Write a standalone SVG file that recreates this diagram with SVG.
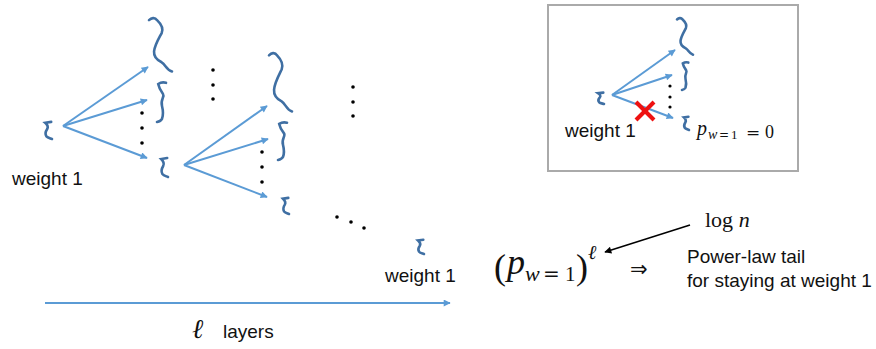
<svg xmlns="http://www.w3.org/2000/svg" xmlns:xlink="http://www.w3.org/1999/xlink" width="876" height="349" viewBox="0 0 876 349">
<style>
.arr{stroke:#5b9bd5;stroke-width:2;fill:none;marker-end:url(#ab)}
.dot{fill:#000}
.lbl{font-family:"Liberation Sans",Arial,sans-serif;font-size:19px;fill:#111}
.math{font-family:"Liberation Serif","Times New Roman",serif;fill:#111}
.dj{font-family:"DejaVu Serif",serif;fill:#111}
.it{font-style:italic}
</style>
<defs>
<marker id="ab" viewBox="0 0 10 10" refX="9" refY="5" markerWidth="9" markerHeight="7" markerUnits="userSpaceOnUse" orient="auto"><path d="M0,0 L10,5 L0,10 z" fill="#5b9bd5"/></marker>
<marker id="ak" viewBox="0 0 10 10" refX="9" refY="5" markerWidth="10" markerHeight="7" markerUnits="userSpaceOnUse" orient="auto"><path d="M0,0 L10,5 L0,10 z" fill="#000"/></marker>
<path id="big" d="M0,4 C10,0 25,-2 35,4 C50,10 65,18 55,28 C40,40 25,50 22,62 C20,72 35,78 55,82 C72,86 75,96 100,99" fill="none" stroke="#3f6fa3" stroke-width="2.6" stroke-linecap="round" vector-effect="non-scaling-stroke"/>
<path id="med" d="M90,2 C60,0 30,2 12,5 C20,15 30,20 60,30 C80,37 30,45 50,60 C60,70 60,85 50,92 C40,97 20,99 0,100" fill="none" stroke="#3f6fa3" stroke-width="2.6" stroke-linecap="round" vector-effect="non-scaling-stroke"/>
<path id="sm" d="M90,5 L15,10 C40,20 60,30 40,45 C20,58 15,75 30,85 C45,93 70,95 100,100" fill="none" stroke="#3f6fa3" stroke-width="2.6" stroke-linecap="round" vector-effect="non-scaling-stroke"/>
</defs>
<rect width="876" height="349" fill="#fff"/>

<g id="connectors">
<line class="arr" x1="63" y1="126" x2="148" y2="67"/>
<line class="arr" x1="63" y1="126" x2="147" y2="100"/>
<line class="arr" x1="63" y1="126" x2="147" y2="158"/>
<line class="arr" x1="184" y1="165" x2="267" y2="106"/>
<line class="arr" x1="184" y1="165" x2="268" y2="139"/>
<line class="arr" x1="184" y1="165" x2="267" y2="197"/>
<line class="arr" x1="612" y1="95" x2="675" y2="50"/>
<line class="arr" x1="612" y1="95" x2="672" y2="75"/>
<line class="arr" x1="612" y1="95" x2="673" y2="118"/>
<line class="arr" x1="45" y1="303" x2="450" y2="303"/>
<line x1="690" y1="225" x2="605" y2="252" stroke="#000" stroke-width="1.5" marker-end="url(#ak)"/>
</g>

<g id="n-src">
<use xlink:href="#sm" transform="translate(44,121) scale(0.08,0.18)"/>
<text class="lbl" x="12" y="185">weight 1</text>
</g>
<g id="n-big1"><use xlink:href="#big" transform="translate(149,18) scale(0.23,0.54)"/></g>
<g id="n-med1"><use xlink:href="#med" transform="translate(157,82) scale(0.10,0.40)"/></g>
<g id="n-sm1"><use xlink:href="#sm" transform="translate(160,157) scale(0.08,0.20)"/></g>
<g id="n-big2"><use xlink:href="#big" transform="translate(269,53) scale(0.23,0.59)"/></g>
<g id="n-med2"><use xlink:href="#med" transform="translate(278,122) scale(0.10,0.38)"/></g>
<g id="n-sm2"><use xlink:href="#sm" transform="translate(282,197) scale(0.07,0.17)"/></g>
<g id="n-end">
<use xlink:href="#sm" transform="translate(417,239) scale(0.07,0.15)"/>
<text class="lbl" x="385" y="282">weight 1</text>
</g>

<g id="dots">
<circle class="dot" cx="142" cy="113" r="1.8"/><circle class="dot" cx="142" cy="128" r="1.8"/><circle class="dot" cx="142" cy="143" r="1.8"/>
<circle class="dot" cx="213" cy="70" r="1.8"/><circle class="dot" cx="213" cy="85" r="1.8"/><circle class="dot" cx="213" cy="99" r="1.8"/>
<circle class="dot" cx="262" cy="152" r="1.8"/><circle class="dot" cx="262" cy="167" r="1.8"/><circle class="dot" cx="262" cy="182" r="1.8"/>
<circle class="dot" cx="353" cy="87" r="1.8"/><circle class="dot" cx="353" cy="102" r="1.8"/><circle class="dot" cx="353" cy="116" r="1.8"/>
<circle class="dot" cx="337" cy="217" r="1.8"/><circle class="dot" cx="351" cy="222" r="1.8"/><circle class="dot" cx="364" cy="228" r="1.8"/>
<circle class="dot" cx="670" cy="86" r="1.6"/><circle class="dot" cx="670" cy="97" r="1.6"/><circle class="dot" cx="670" cy="107" r="1.6"/>
</g>

<g id="layers-label">
<text class="dj it" x="192" y="338" font-size="27">ℓ</text>
<text class="lbl" x="223" y="338">layers</text>
</g>

<g id="formula">
<text class="math" x="494" y="279" font-size="36">(</text>
<text class="math it" x="507" y="274" font-size="36">p</text>
<text class="math it" x="525" y="281" font-size="22">w</text>
<text class="dj" x="543" y="281" font-size="20">=</text>
<text class="math" x="565" y="281" font-size="21">1</text>
<text class="math" x="576" y="279" font-size="36">)</text>
<text class="dj it" x="588" y="259" font-size="20">ℓ</text>
<text x="630" y="276" font-family="DejaVu Sans,sans-serif" font-size="21" fill="#111">⇒</text>
</g>

<g id="logn">
<text class="math" x="705" y="227" font-size="22">log <tspan class="it">n</tspan></text>
</g>

<g id="conclusion">
<text class="lbl" x="687" y="263">Power-law tail</text>
<text class="lbl" x="687" y="287">for staying at weight 1</text>
</g>

<g id="inset">
<rect x="548" y="5" width="250" height="166" fill="none" stroke="#aaaaaa" stroke-width="2"/>
<use xlink:href="#sm" transform="translate(597,92) scale(0.07,0.12)"/>
<use xlink:href="#big" transform="translate(677,18) scale(0.16,0.37)"/>
<use xlink:href="#med" transform="translate(682,62) scale(0.07,0.28)"/>
<use xlink:href="#sm" transform="translate(683,116) scale(0.06,0.14)"/>
<g stroke="#ee1111" stroke-width="4"><line x1="636" y1="102" x2="654" y2="120"/><line x1="654" y1="102" x2="636" y2="120"/></g>
<text class="lbl" x="565" y="137">weight 1</text>
<text class="math it" x="697" y="135" font-size="20">p</text>
<text class="math it" x="708" y="139" font-size="14">w</text>
<text class="dj" x="719" y="139" font-size="12">=</text>
<text class="math" x="731" y="139" font-size="13">1</text>
<text class="dj" x="746" y="138" font-size="17">=</text>
<text class="math" x="765" y="138" font-size="18">0</text>
</g>
</svg>
